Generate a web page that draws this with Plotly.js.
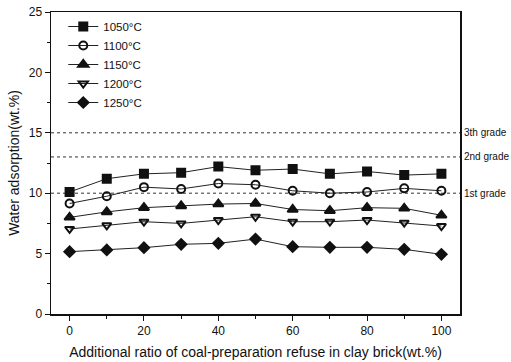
<!DOCTYPE html>
<html>
<head>
<meta charset="utf-8">
<script src="https://cdn.plot.ly/plotly-3.0.1.min.js"></script>
<style>html,body{margin:0;padding:0;background:#fff;}#chart{width:511px;height:362px;}</style>
</head>
<body>
<div id="chart"></div>
<script>
const ratios = [0, 10, 20, 30, 40, 50, 60, 70, 80, 90, 100];
const temps = ["1050°C", "1100°C", "1150°C", "1200°C", "1250°C"];
const s1050 = [10.1, 11.2, 11.6, 11.7, 12.2, 11.9, 12.0, 11.6, 11.8, 11.5, 11.6];
const s1100 = [9.15, 9.75, 10.5, 10.35, 10.8, 10.7, 10.2, 10.0, 10.1, 10.4, 10.2];
const s1150 = [8.0, 8.45, 8.8, 8.95, 9.1, 9.15, 8.65, 8.55, 8.8, 8.75, 8.17];
const s1200 = [7.04, 7.34, 7.64, 7.5, 7.78, 8.05, 7.64, 7.64, 7.78, 7.56, 7.28];
const s1250 = [5.16, 5.3, 5.49, 5.77, 5.85, 6.2, 5.57, 5.52, 5.52, 5.35, 4.94];
const gradeValues = [15, 13, 10];
const gradeLabels = ["3th grade", "2nd grade", "1st grade"];

const seriesList = [s1050, s1100, s1150, s1200, s1250];
const symbols = ["square", "circle-open", "triangle-up", "triangle-down-open", "diamond"];
const sizes = [8, 8, 9, 8, 8];

const traces = seriesList.map((ys, i) => ({
  x: ratios, y: ys, name: temps[i], type: "scatter", mode: "lines+markers",
  line: {color: "#222", width: 1},
  marker: {symbol: symbols[i], size: sizes[i], color: "#111", line: {color: "#111", width: 2}}
}));

const shapes = gradeValues.map(v => ({
  type: "line", xref: "paper", x0: 0, x1: 1, yref: "y", y0: v, y1: v,
  line: {color: "#333", width: 1, dash: "dot"}, layer: "below"
}));
const annotations = gradeValues.map((v, i) => ({
  xref: "paper", x: 1, xanchor: "left", xshift: 2, yref: "y", y: v, yanchor: "middle",
  text: gradeLabels[i], showarrow: false, font: {size: 10, color: "#111"}
}));

const layout = {
  width: 511, height: 362,
  margin: {l: 51, r: 51, t: 12, b: 48},
  paper_bgcolor: "#fff", plot_bgcolor: "#fff",
  font: {family: "Liberation Sans, Arial, sans-serif", color: "#111", size: 12},
  showlegend: true,
  legend: {x: 0.03, y: 1, xanchor: "left", yanchor: "top", bgcolor: "rgba(0,0,0,0)",
           font: {size: 11.5}, tracegroupgap: 0, itemwidth: 30},
  xaxis: {
    range: [-5, 105], tickvals: [0, 20, 40, 60, 80, 100], automargin: false,
    minor: {tickvals: [10, 30, 50, 70, 90], ticks: "outside", ticklen: 3, tickcolor: "#111"},
    ticks: "outside", ticklen: 5, tickcolor: "#111", showline: true, linecolor: "#111", linewidth: 1.5,
    mirror: true, showgrid: false, zeroline: false,
    title: {text: "Additional ratio of coal-preparation refuse in clay brick(wt.%)", font: {size: 14}, standoff: 10},
    tickfont: {size: 12}
  },
  yaxis: {
    range: [0, 25], tickvals: [0, 5, 10, 15, 20, 25], automargin: false,
    minor: {tickvals: [2.5, 7.5, 12.5, 17.5, 22.5], ticks: "outside", ticklen: 3, tickcolor: "#111"},
    ticks: "outside", ticklen: 5, tickcolor: "#111", showline: true, linecolor: "#111", linewidth: 1.5,
    mirror: true, showgrid: false, zeroline: false,
    title: {text: "Water adsorption(wt.%)", font: {size: 14}, standoff: 6},
    tickfont: {size: 12}
  },
  shapes: shapes,
  annotations: annotations
};

Plotly.newPlot("chart", traces, layout, {displayModeBar: false, staticPlot: true});
</script>
</body>
</html>
